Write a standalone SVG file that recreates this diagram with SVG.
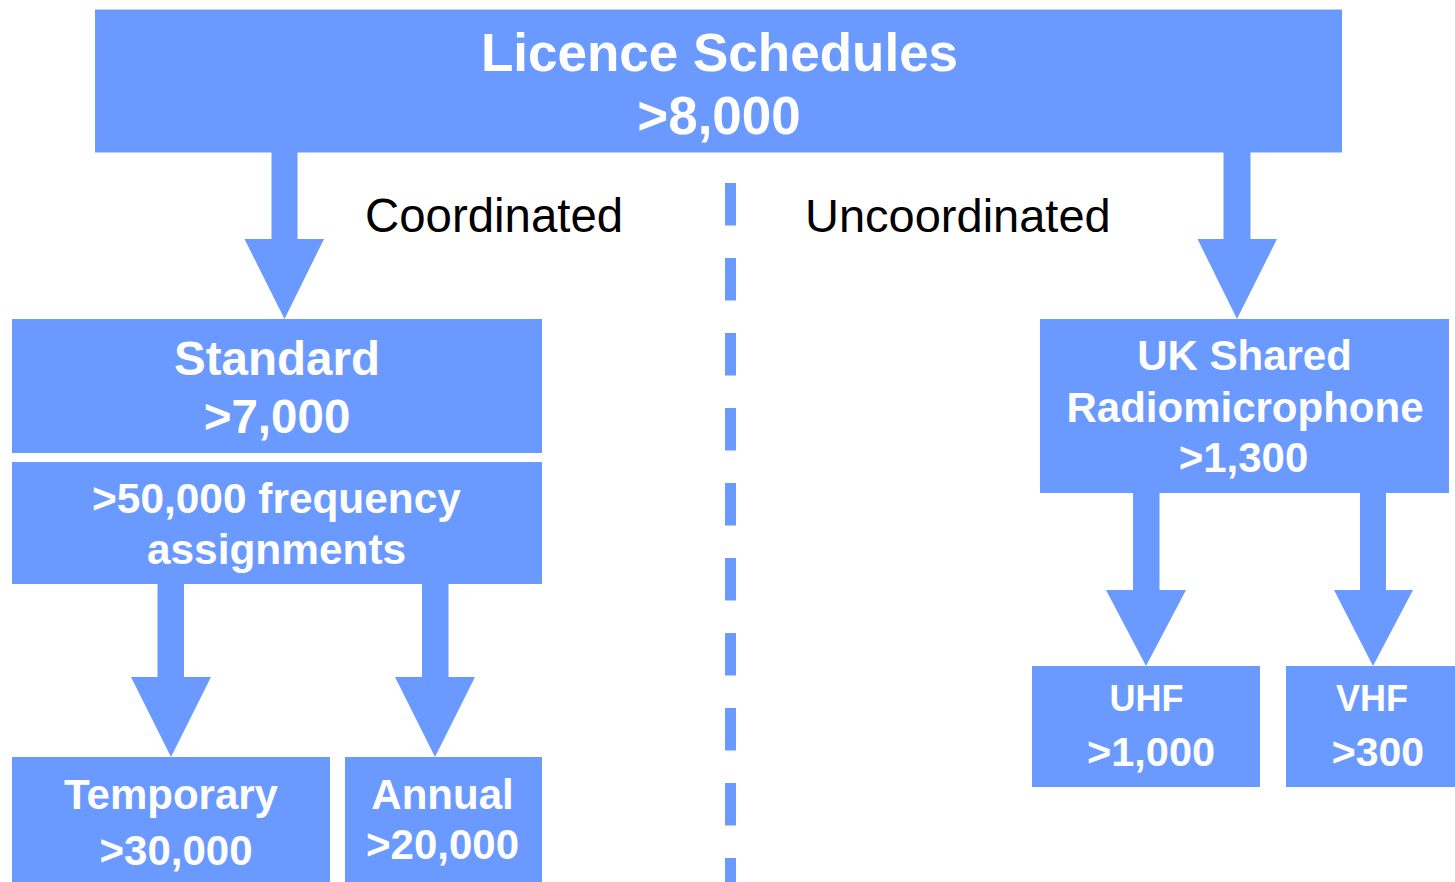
<svg xmlns="http://www.w3.org/2000/svg" width="1455" height="882" viewBox="0 0 1455 882">
<style>
.box{fill:#6A9AFF}
.arr{fill:#6A9AFF}
.t{font-family:"Liberation Sans",Arial,sans-serif;font-weight:bold;fill:#FFFFFF;text-anchor:middle}
.l{font-family:"Liberation Sans",Arial,sans-serif;fill:#000000}
</style>
<rect width="1455" height="882" fill="#FFFFFF"/>
<g id="connectors">
<polygon class="arr" points="271.5,150 297.5,150 297.5,239 324,239 284.5,319 244.5,239 271.5,239"/>
<polygon class="arr" points="1223.5,150 1250.5,150 1250.5,239 1277,239 1237,319 1197.5,239 1223.5,239"/>
<polygon class="arr" points="157.5,582 184,582 184,677 211,677 171,757 131,677 157.5,677"/>
<polygon class="arr" points="422,582 448.5,582 448.5,677 475,677 435,757 395,677 422,677"/>
<polygon class="arr" points="1133,490 1159.5,490 1159.5,590 1186,590 1146,666 1106,590 1133,590"/>
<polygon class="arr" points="1360,490 1386,490 1386,590 1413,590 1373,666 1334,590 1360,590"/>
<line x1="730.5" y1="183" x2="730.5" y2="882" stroke="#6A9AFF" stroke-width="11" stroke-dasharray="42.6 32.4"/>
</g>
<g id="labels">
<text class="l" x="365" y="232" font-size="47.4">Coordinated</text>
<text class="l" x="805" y="232" font-size="47">Uncoordinated</text>
</g>
<g id="licence">
<rect class="box" x="95" y="9.5" width="1247" height="143"/>
<text class="t" x="719.5" y="71" font-size="53">Licence Schedules</text>
<text class="t" x="719" y="134" font-size="53">&gt;8,000</text>
</g>
<g id="standard">
<rect class="box" x="12" y="319" width="530" height="134"/>
<text class="t" x="277" y="375" font-size="47.5">Standard</text>
<text class="t" x="277" y="433" font-size="47.5">&gt;7,000</text>
</g>
<g id="frequency">
<rect class="box" x="12" y="462" width="530" height="122"/>
<text class="t" x="276.5" y="513" font-size="42.4">&gt;50,000 frequency</text>
<text class="t" x="276.5" y="564" font-size="42.4">assignments</text>
</g>
<g id="temporary">
<rect class="box" x="12" y="757" width="318" height="125"/>
<text class="t" x="171" y="809" font-size="42">Temporary</text>
<text class="t" x="176" y="865" font-size="42">&gt;30,000</text>
</g>
<g id="annual">
<rect class="box" x="345" y="757" width="197" height="125"/>
<text class="t" x="442.5" y="809" font-size="42">Annual</text>
<text class="t" x="442.5" y="859" font-size="42">&gt;20,000</text>
</g>
<g id="uk-shared">
<rect class="box" x="1040" y="319" width="409" height="174"/>
<text class="t" x="1244.5" y="370" font-size="42">UK Shared</text>
<text class="t" x="1245" y="422" font-size="42">Radiomicrophone</text>
<text class="t" x="1243.5" y="472" font-size="42">&gt;1,300</text>
</g>
<g id="uhf">
<rect class="box" x="1032" y="666" width="228" height="121"/>
<text class="t" x="1146.5" y="711" font-size="36">UHF</text>
<text class="t" x="1151" y="766" font-size="41.5">&gt;1,000</text>
</g>
<g id="vhf">
<rect class="box" x="1286" y="666" width="169" height="121"/>
<text class="t" x="1372" y="711" font-size="36">VHF</text>
<text class="t" x="1378" y="766" font-size="41">&gt;300</text>
</g>
</svg>
